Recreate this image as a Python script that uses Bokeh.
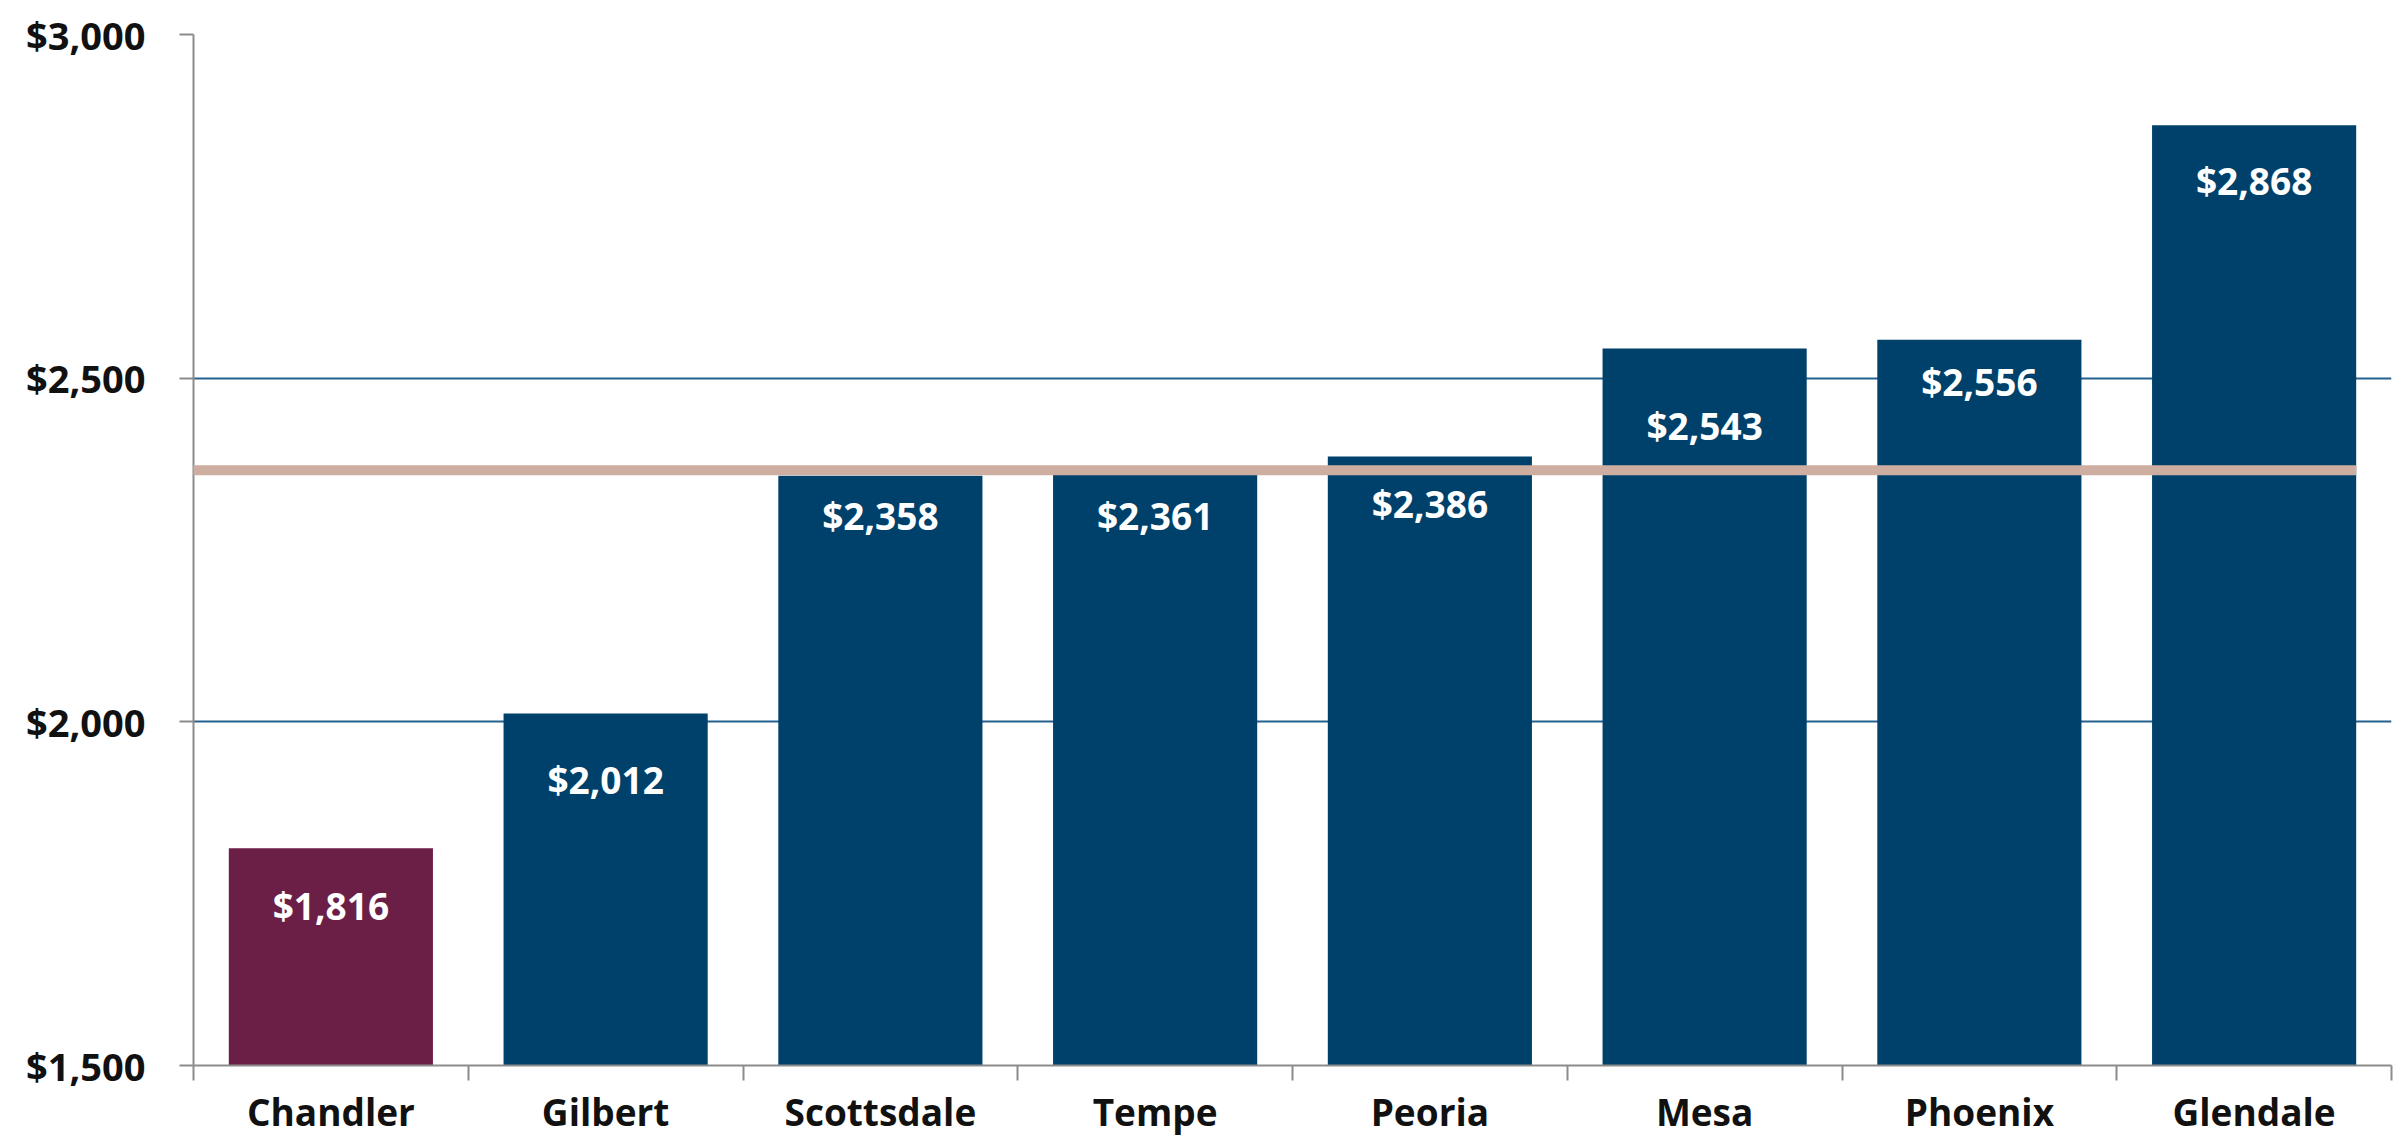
from bokeh.plotting import figure
from bokeh.models import (ColumnDataSource, Range1d, FixedTicker, NumeralTickFormatter,
                          LabelSet, BoxAnnotation)
from bokeh.core.properties import value
from bokeh.embed import file_html
from bokeh.resources import INLINE

# ---- data ----
categories = ["Chandler", "Gilbert", "Scottsdale", "Tempe", "Peoria", "Mesa", "Phoenix", "Glendale"]
costs = [1816, 2012, 2358, 2361, 2386, 2543, 2556, 2868]
highlight = "Chandler"
reference_value = 2366
y_ticks = [1500, 2000, 2500, 3000]
y_min, y_max = 1500, 3000

# ---- style ----
NAVY = "#00416B"
MAROON = "#6B1E46"
LINE_C = "#CFAEA2"
GRID_C = "#24618F"
AXIS_C = "#8C8C8C"
FONT = "Open Sans"
label_offsets_px = [57, 66, 40, 42, 47, 77, 42, 55]
bar_width = 0.743

idx = list(range(len(categories)))
colors = [MAROON if c == highlight else NAVY for c in categories]
labels = ["${:,}".format(v) for v in costs]

src = ColumnDataSource(dict(x=idx, top=costs, color=colors, label=labels,
                            dy=[-d for d in label_offsets_px]))

p = figure(width=2395, height=1139, output_backend="svg", toolbar_location=None,
           x_range=Range1d(-0.5, len(categories) - 0.5), y_range=Range1d(y_min, y_max),
           min_border_left=193, min_border_right=4, min_border_top=34, min_border_bottom=72)
p.outline_line_color = None
p.background_fill_color = "white"
p.border_fill_color = "white"

p.vbar(x="x", top="top", bottom=y_min, width=bar_width, fill_color="color",
       line_color=None, source=src)

# reference line (extends to the canvas left edge)
half = 5 * (y_max - y_min) / 1033.0
p.add_layout(BoxAnnotation(left=0, left_units="canvas",
                           right=idx[-1] + bar_width / 2,
                           top=reference_value + half, bottom=reference_value - half,
                           fill_color=LINE_C, fill_alpha=1.0, line_color=None, level="annotation"))

p.add_layout(LabelSet(x="x", y="top", text="label", y_offset="dy", source=src,
                      text_align="center", text_baseline="middle", text_color="white",
                      text_font=value(FONT), text_font_style="bold", text_font_size="37px"))

# x axis: labels at centers, tick marks at boundaries
xa = p.xaxis[0]
xa.ticker = FixedTicker(ticks=idx, minor_ticks=[i - 0.5 for i in range(len(categories) + 1)])
xa.major_label_overrides = {i: c for i, c in zip(idx, categories)}
xa.major_tick_line_color = None
xa.minor_tick_in = 0
xa.minor_tick_out = 15
xa.minor_tick_line_color = AXIS_C
xa.minor_tick_line_width = 2
xa.axis_line_color = AXIS_C
xa.axis_line_width = 2
xa.major_label_standoff = 5
xa.major_label_text_font = FONT
xa.major_label_text_font_style = "bold"
xa.major_label_text_font_size = "37px"
xa.major_label_text_color = "#111111"

ya = p.yaxis[0]
ya.ticker = FixedTicker(ticks=y_ticks, minor_ticks=[])
ya.formatter = NumeralTickFormatter(format="$0,0")
ya.major_tick_in = 0
ya.major_tick_out = 14
ya.major_tick_line_color = AXIS_C
ya.major_tick_line_width = 2
ya.axis_line_color = AXIS_C
ya.axis_line_width = 2
ya.major_label_standoff = 34
ya.major_label_text_font = FONT
ya.major_label_text_font_style = "bold"
ya.major_label_text_font_size = "38px"
ya.major_label_text_color = "#111111"

p.xgrid.grid_line_color = None
p.ygrid.grid_line_color = GRID_C
p.ygrid.grid_line_width = 2
p.ygrid.ticker = FixedTicker(ticks=y_ticks)

open("out.html", "w").write(file_html(p, INLINE))
